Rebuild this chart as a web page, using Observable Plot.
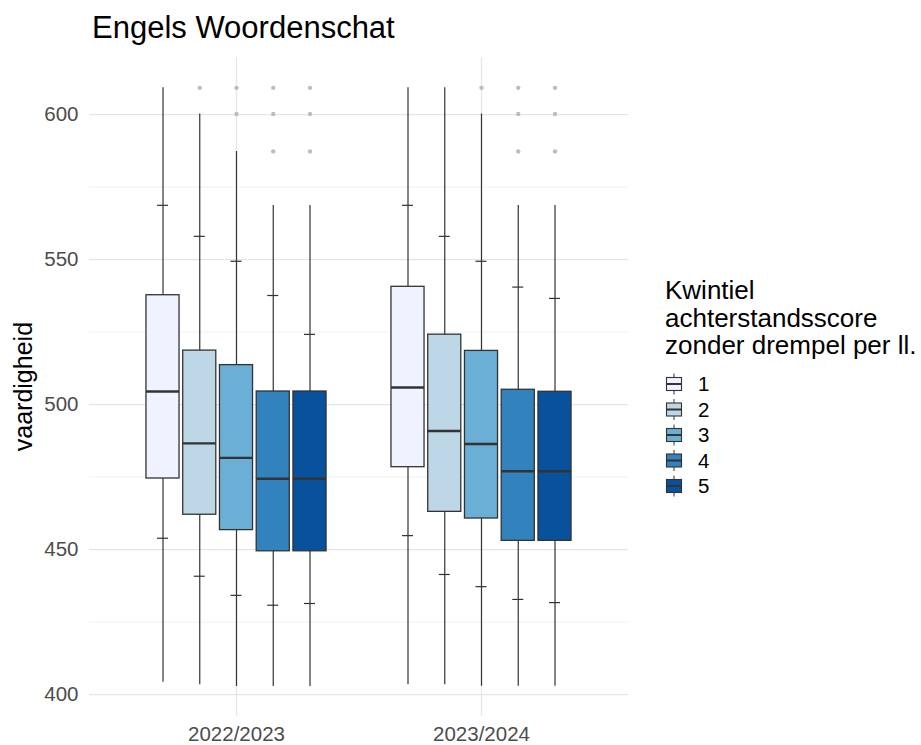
<!DOCTYPE html>
<html><head><meta charset="utf-8">
<script src="https://cdn.jsdelivr.net/npm/d3@7"></script>
<script src="https://cdn.jsdelivr.net/npm/@observablehq/plot@0.6"></script>
<style>
body{margin:0;background:#fff;font-family:"Liberation Sans",Arial,sans-serif;}
#wrap{position:relative;width:921px;height:745px;overflow:hidden;}
</style></head><body><div id="wrap"></div>
<script>
const years = ["2022/2023", "2023/2024"];
const quintiles = ["1", "2", "3", "4", "5"];
const fillColors = ["#EFF3FF", "#BDD7E7", "#6BAED6", "#3182BD", "#08519C"];
// per year: values per quintile 1..5
const whiskerLow = [[404.2, 403.4, 402.8, 402.8, 402.8], [403.4, 403.4, 402.9, 402.9, 402.9]];
const tickLow    = [[453.9, 440.8, 434.2, 430.8, 431.4], [454.8, 441.4, 437.2, 432.8, 431.7]];
const q1         = [[474.5, 462.0, 456.7, 449.4, 449.4], [478.4, 463.0, 460.7, 453.0, 453.0]];
const median     = [[504.5, 486.6, 481.6, 474.4, 474.4], [505.9, 490.9, 486.4, 477.0, 477.0]];
const q3         = [[537.7, 518.6, 513.6, 504.5, 504.5], [540.6, 524.1, 518.5, 505.1, 504.4]];
const tickHigh   = [[568.7, 558.0, 549.4, 537.6, 524.2], [568.7, 558.0, 549.4, 540.5, 536.6]];
const whiskerHigh= [[609.2, 600.2, 587.3, 568.6, 568.6], [609.2, 609.2, 600.2, 568.6, 568.6]];
const outliers   = [[[], [609.2], [600.2, 609.2], [587.3, 600.2, 609.2], [587.3, 600.2, 609.2]],
                    [[], [], [609.2], [587.3, 600.2, 609.2], [587.3, 600.2, 609.2]]];
const yMajor = [400, 450, 500, 550, 600];
const yMinor = [425, 475, 525, 575];

// dodge like ggplot: 0.75 group width, 5 slots, box = 0.9 of slot
const slot = 0.75 / quintiles.length;
const halfBox = slot * 0.9 / 2;
const halfTick = 0.0225;
const rows = [];
const outRows = [];
years.forEach((yr, yi) => quintiles.forEach((q, qi) => {
  const x = yi + (qi - (quintiles.length - 1) / 2) * slot;
  rows.push({year: yr, q, x, x1: x - halfBox, x2: x + halfBox,
    wlo: whiskerLow[yi][qi], tlo: tickLow[yi][qi], q1: q1[yi][qi], med: median[yi][qi],
    q3: q3[yi][qi], thi: tickHigh[yi][qi], whi: whiskerHigh[yi][qi]});
  outliers[yi][qi].forEach(v => outRows.push({q, x, v}));
}));

const font = '"Liberation Sans", Arial, sans-serif';
const stroke = "#333333";
const chart = Plot.plot({
  width: 921, height: 745,
  marginLeft: 89, marginRight: 293, marginTop: 57.5, marginBottom: 29.2,
  style: {fontFamily: font, fontSize: "20px", color: "#4d4d4d", background: "transparent", overflow: "visible"},
  x: {type: "linear", domain: [-0.6, 1.6]},
  y: {domain: [392.5, 619.5]},
  color: {type: "ordinal", domain: quintiles, range: fillColors},
  marks: [
    Plot.ruleY(yMinor, {stroke: "#ebebeb", strokeWidth: 0.7}),
    Plot.ruleY(yMajor, {stroke: "#e6e6e6", strokeWidth: 1.3}),
    Plot.ruleX(years.map((d, i) => i), {stroke: "#e6e6e6", strokeWidth: 1.3}),
    Plot.axisY({ticks: yMajor, tickSize: 0, tickPadding: 11, label: null, fontSize: 20.5, fill: "#4d4d4d"}),
    Plot.axisX({ticks: years.map((d, i) => i), tickFormat: i => years[i], tickSize: 0, tickPadding: 10, label: null, fontSize: 20.5, fill: "#4d4d4d"}),
    Plot.ruleX(rows, {x: "x", y1: "wlo", y2: "whi", stroke, strokeWidth: 1.2}),
    Plot.ruleY(rows, {y: "tlo", x1: d => d.x - halfTick, x2: d => d.x + halfTick, stroke, strokeWidth: 1.2}),
    Plot.ruleY(rows, {y: "thi", x1: d => d.x - halfTick, x2: d => d.x + halfTick, stroke, strokeWidth: 1.2}),
    Plot.rect(rows, {x1: "x1", x2: "x2", y1: "q1", y2: "q3", fill: "q", stroke, strokeWidth: 1.3}),
    Plot.ruleY(rows, {y: "med", x1: "x1", x2: "x2", stroke, strokeWidth: 2.4}),
    Plot.dot(outRows, {x: "x", y: "v", r: 2.2, fill: "#bdbdbd", stroke: null})
  ]
});
document.getElementById("wrap").appendChild(chart);

const svg = d3.select(chart);
svg.append("text").attr("x", 92).attr("y", 38).attr("text-anchor", "start")
  .attr("font-family", font).attr("font-size", 31).attr("fill", "#000").text("Engels Woordenschat");
svg.append("text").attr("transform", "translate(32,386.6) rotate(-90)")
  .attr("text-anchor", "middle").attr("font-family", font).attr("font-size", 25).attr("fill", "#000").text("vaardigheid");

const legendTitle = ["Kwintiel", "achterstandsscore", "zonder drempel per ll."];
const lg = svg.append("g").attr("font-family", font).attr("fill", "#000").attr("text-anchor", "start");
legendTitle.forEach((t, i) => lg.append("text").attr("x", 665).attr("y", 299 + i * 27.5)
  .attr("font-size", 26).text(t));
const colorScale = chart.scale("color");
quintiles.forEach((q, i) => {
  const cy = 384 + i * 25.5;
  const cx = 674;
  const k = lg.append("g");
  k.append("line").attr("x1", cx).attr("x2", cx).attr("y1", cy - 10.5).attr("y2", cy + 10.5)
    .attr("stroke", stroke).attr("stroke-width", 1);
  k.append("rect").attr("x", cx - 7.5).attr("y", cy - 6.5).attr("width", 15).attr("height", 13)
    .attr("fill", colorScale.apply(q)).attr("stroke", stroke).attr("stroke-width", 1.1);
  k.append("line").attr("x1", cx - 7.5).attr("x2", cx + 7.5).attr("y1", cy).attr("y2", cy)
    .attr("stroke", stroke).attr("stroke-width", 2);
  lg.append("text").attr("x", 698).attr("y", cy).attr("dy", "0.36em")
    .attr("font-size", 20.5).text(q);
});
</script>
</body></html>
